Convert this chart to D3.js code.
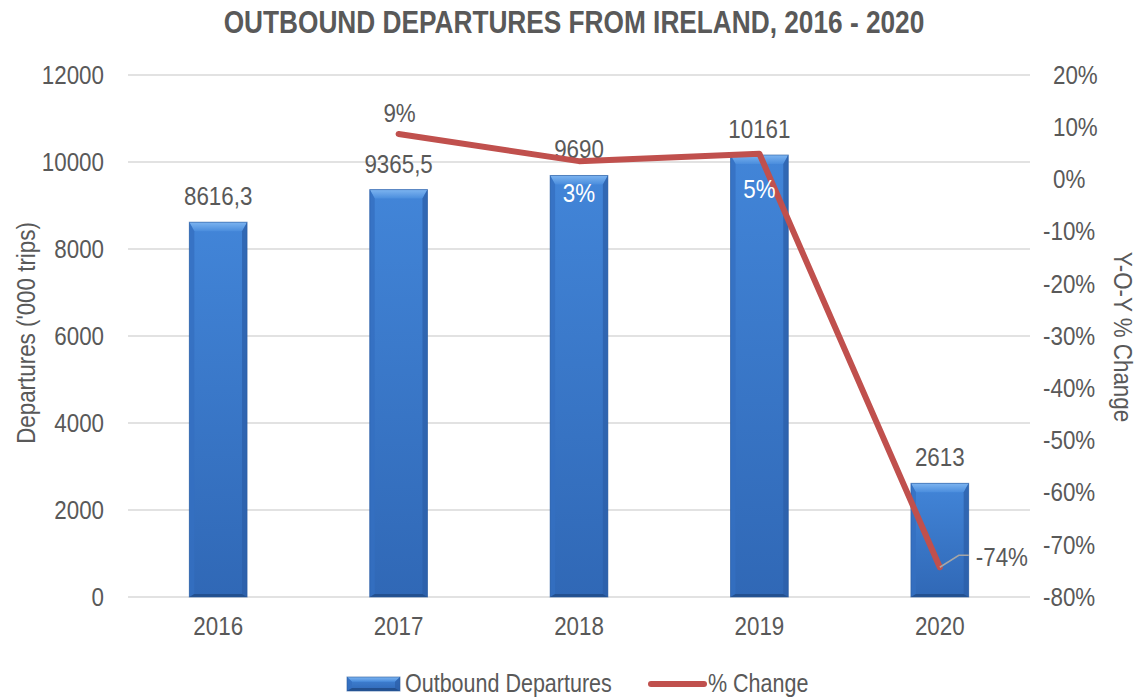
<!DOCTYPE html>
<html>
<head>
<meta charset="utf-8">
<style>
  *{margin:0;padding:0;box-sizing:border-box}
  body{background:#fff;width:1148px;height:698px;overflow:hidden}
  svg{display:block}
  text{font-family:"Liberation Sans Narrow","Arial Narrow","Liberation Sans",sans-serif;fill:#595959}
</style>
</head>
<body>
<svg id="chart"></svg>
<script src="https://cdn.jsdelivr.net/npm/d3@7/dist/d3.min.js"></script>
<script>
// data
const years      = ['2016','2017','2018','2019','2020'];
const departures = [8616.3, 9365.5, 9690, 10161, 2613];
const depLabels  = ['8616,3','9365,5','9690','10161','2613'];
const pctChange  = [null, 8.7, 3.5, 4.9, -74.3];
const pctLabels  = [null, '9%', '3%', '5%', '-74%'];
const leftTicks  = [0, 2000, 4000, 6000, 8000, 10000, 12000];
const rightTicks = [20, 10, 0, -10, -20, -30, -40, -50, -60, -70, -80];

const W = 1148, H = 698;
const GRID = '#d9d9d9', RED = '#c0504d';
const NARROW = 0.86; // squeeze text to look like Arial Narrow
const plot = {left: 128, right: 1030, top: 75, bottom: 597};

const svg = d3.select('#chart').attr('width', W).attr('height', H);
const defs = svg.append('defs');

// bar face gradients
const face = defs.append('linearGradient').attr('id', 'face')
  .attr('x1', 0).attr('y1', 0).attr('x2', 0).attr('y2', 1);
face.append('stop').attr('offset', 0).attr('stop-color', '#4285d8');
face.append('stop').attr('offset', 1).attr('stop-color', '#3068b6');
const topBev = defs.append('linearGradient').attr('id', 'topBev')
  .attr('x1', 0).attr('y1', 0).attr('x2', 0).attr('y2', 1);
topBev.append('stop').attr('offset', 0).attr('stop-color', '#7db4f0');
topBev.append('stop').attr('offset', 1).attr('stop-color', '#4a8ddd');

const x = d3.scaleBand().domain(years).range([plot.left, plot.right]).paddingInner(0.68).paddingOuter(0.34);
const y = d3.scaleLinear().domain([0, 12000]).range([plot.bottom, plot.top]);
const y2 = d3.scaleLinear().domain([-80, 20]).range([plot.bottom, plot.top]);

// gridlines
svg.append('g').selectAll('line').data(leftTicks).join('line')
  .attr('x1', plot.left).attr('x2', plot.right)
  .attr('y1', d => y(d)).attr('y2', d => y(d))
  .attr('stroke', GRID).attr('stroke-width', 1.5);

// left axis
const yAxis = svg.append('g').attr('transform', `translate(${plot.left},0)`)
  .call(d3.axisLeft(y).tickValues(leftTicks).tickSize(0).tickPadding(24).tickFormat(d3.format('d')));
yAxis.select('.domain').remove();
yAxis.selectAll('text').attr('font-size', 26).attr('font-family', null);

// right axis
const y2Axis = svg.append('g').attr('transform', `translate(${plot.right},0)`)
  .call(d3.axisRight(y2).tickValues(rightTicks).tickSize(0).tickPadding(13).tickFormat(d => d + '%'));
y2Axis.select('.domain').remove();
y2Axis.selectAll('text').attr('font-size', 26).attr('font-family', null)
  .attr('dx', d => d >= 0 ? 10 : 0);

// x axis
const xAxis = svg.append('g').attr('transform', `translate(0,${plot.bottom})`)
  .call(d3.axisBottom(x).tickSize(0).tickPadding(20));
xAxis.select('.domain').remove();
xAxis.selectAll('text').attr('font-size', 26).attr('font-family', null);

// bevelled bars
function drawBar(g, x0, y0, w, h) {
  const bt = Math.min(9, h / 3), bs = 5, bb = 3;
  g.append('rect').attr('x', x0).attr('y', y0).attr('width', w).attr('height', h).attr('fill', 'url(#face)');
  g.append('path').attr('fill', 'url(#topBev)')
    .attr('d', `M${x0},${y0}H${x0 + w}L${x0 + w - bs},${y0 + bt}H${x0 + bs}Z`);
  g.append('path').attr('fill', '#2c5fa8').attr('opacity', 0.75)
    .attr('d', `M${x0 + w},${y0}V${y0 + h}L${x0 + w - bs},${y0 + h - bb}V${y0 + bt}Z`);
  g.append('path').attr('fill', '#346fc0').attr('opacity', 0.8)
    .attr('d', `M${x0},${y0}V${y0 + h}L${x0 + bs},${y0 + h - bb}V${y0 + bt}Z`);
  g.append('path').attr('fill', '#23508f')
    .attr('d', `M${x0},${y0 + h}H${x0 + w}L${x0 + w - bs},${y0 + h - bb}H${x0 + bs}Z`);
  g.append('rect').attr('x', x0).attr('y', y0).attr('width', w).attr('height', h)
    .attr('fill', 'none').attr('stroke', '#2a5a9e').attr('stroke-width', 1).attr('opacity', 0.6);
}
const bars = svg.append('g');
departures.forEach((v, i) => {
  drawBar(bars.append('g'), x(years[i]), y(v), x.bandwidth(), y(0) - y(v));
});

// bar value labels
svg.append('g').selectAll('text').data(departures).join('text')
  .attr('x', (d, i) => x(years[i]) + x.bandwidth() / 2)
  .attr('y', d => y(d) - 17)
  .attr('text-anchor', 'middle').attr('font-size', 26)
  .text((d, i) => depLabels[i]);

// % change line
const pts = pctChange.map((v, i) => ({yr: years[i], v, lab: pctLabels[i]})).filter(d => d.v !== null);
const line = d3.line().x(d => x(d.yr) + x.bandwidth() / 2).y(d => y2(d.v));
svg.append('path').datum(pts).attr('d', line)
  .attr('fill', 'none').attr('stroke', RED).attr('stroke-width', 6)
  .attr('stroke-linecap', 'round').attr('stroke-linejoin', 'round');

// % labels
const place = {'2017': 'above', '2018': 'below', '2019': 'below', '2020': 'right'};
const pl = svg.append('g');
pts.forEach(d => {
  const px = x(d.yr) + x.bandwidth() / 2, py = y2(d.v);
  const t = pl.append('text').attr('font-size', 26).text(d.lab);
  if (place[d.yr] === 'above') {
    t.attr('x', px + 1).attr('y', py - 12).attr('text-anchor', 'middle');
  } else if (place[d.yr] === 'below') {
    t.attr('x', px).attr('y', py + (d.yr === '2018' ? 41 : 44)).attr('text-anchor', 'middle').style('fill', '#fff');
  } else {
    pl.insert('path', 'text').attr('fill', 'none').attr('stroke', '#a6a6a6').attr('stroke-width', 1.5)
      .attr('d', `M${px},${py}L${px + 19},${py - 12}H${px + 29}`);
    t.attr('x', px + 36).attr('y', py - 1).attr('text-anchor', 'start');
  }
});

// title
svg.append('text').attr('x', 574).attr('y', 33).attr('text-anchor', 'middle')
  .attr('font-size', 30.5).attr('font-weight', 'bold')
  .text('OUTBOUND DEPARTURES FROM IRELAND, 2016 - 2020');

// axis titles
svg.append('text').attr('transform', 'translate(35,333) rotate(-90)')
  .attr('text-anchor', 'middle').attr('font-size', 26).text("Departures ('000 trips)");
svg.append('text').attr('transform', 'translate(1114,337) rotate(90)')
  .attr('text-anchor', 'middle').attr('font-size', 26).text('Y-O-Y % Change');

// legend
const lg = svg.append('g');
drawBar(lg.append('g'), 347, 677, 53, 14);
lg.append('text').attr('x', 405).attr('y', 692).attr('font-size', 25).text('Outbound Departures');
lg.append('line').attr('x1', 651).attr('x2', 704).attr('y1', 684).attr('y2', 684)
  .attr('stroke', RED).attr('stroke-width', 6).attr('stroke-linecap', 'round');
lg.append('text').attr('x', 708).attr('y', 692).attr('font-size', 25).text('% Change');

// condense all text
svg.selectAll('text').each(function() {
  const len = this.getComputedTextLength();
  this.setAttribute('textLength', len * NARROW);
  this.setAttribute('lengthAdjust', 'spacingAndGlyphs');
});
</script>
</body>
</html>
